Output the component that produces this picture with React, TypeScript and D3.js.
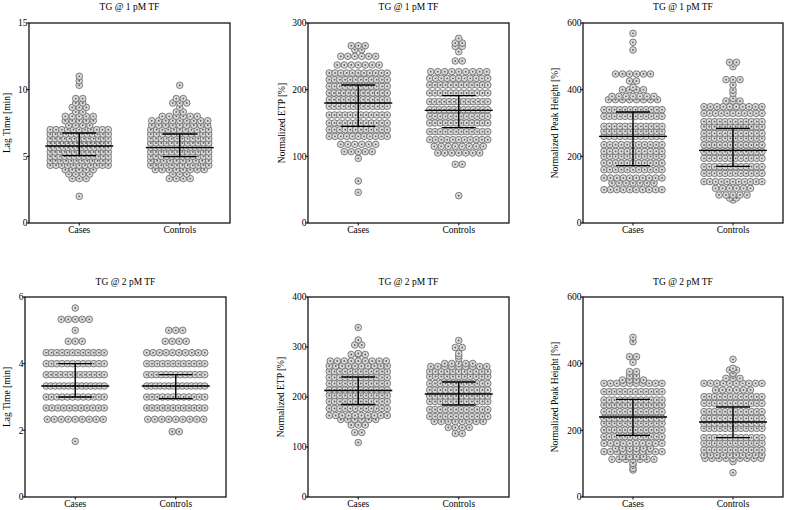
import React from 'react';
import * as d3 from 'd3';

type Row = [number, number]; // [value, number of subjects at that value]

const groups = ['Cases', 'Controls'];

// Lag time @ 1 pM TF (min)
const lag1Cases: Row[] = [[2.0,1],[3.33,3],[3.67,4],[4.0,5],[4.33,11],[4.67,12],[5.0,13],[5.33,13],[5.67,14],[6.0,14],[6.33,13],[6.67,12],[7.0,11],[7.33,4],[7.67,5],[8.0,5],[8.33,2],[8.67,3],[9.0,2],[9.33,2],[10.33,1],[10.67,1],[11.0,1]];
const lag1Controls: Row[] = [[3.33,4],[3.67,3],[4.0,8],[4.33,12],[4.67,10],[5.0,12],[5.33,12],[5.67,14],[6.0,12],[6.33,12],[6.67,11],[7.0,11],[7.33,9],[7.67,9],[8.0,6],[8.33,2],[8.67,1],[9.0,3],[9.33,2],[10.33,1]];
// Normalized ETP @ 1 pM TF (%)
const etp1Cases: Row[] = [[46,1],[63,1],[97,1],[107,5],[118,6],[130,11],[140,12],[150,12],[162,12],[175,13],[185,13],[195,13],[205,12],[215,12],[225,11],[237,7],[250,6],[260,2],[266,3]];
const etp1Controls: Row[] = [[41,1],[88,2],[105,7],[115,8],[125,11],[137,12],[150,12],[160,12],[170,13],[182,13],[195,12],[207,12],[217,11],[227,9],[243,2],[257,1],[265,2],[270,2],[277,1]];
// Normalized peak height @ 1 pM TF (%)
const ph1Cases: Row[] = [[100,10],[120,7],[135,10],[160,11],[180,11],[200,11],[215,11],[235,11],[260,12],[275,12],[290,12],[320,12],[340,12],[370,8],[380,7],[400,4],[407,1],[426,2],[447,6],[519,1],[542,1],[569,1]];
const ph1Controls: Row[] = [[69,1],[75,2],[84,5],[104,6],[124,11],[149,12],[169,12],[194,12],[214,12],[234,12],[254,12],[269,12],[289,12],[304,12],[329,11],[349,10],[366,3],[374,1],[389,1],[399,1],[414,1],[430,3],[469,1],[482,2]];
// Lag time @ 2 pM TF (min)
const lag2Cases: Row[] = [[1.67,1],[2.33,9],[2.67,11],[3.0,12],[3.33,14],[3.67,13],[4.0,12],[4.33,12],[4.67,3],[5.0,1],[5.33,5],[5.67,1]];
const lag2Controls: Row[] = [[1.96,2],[2.33,9],[2.67,12],[3.0,12],[3.33,14],[3.67,13],[4.0,12],[4.33,10],[4.67,4],[5.0,3]];
// Normalized ETP @ 2 pM TF (%)
const etp2Cases: Row[] = [[109,1],[129,2],[144,3],[155,6],[163,10],[177,12],[191,12],[203,12],[214,12],[227,12],[239,12],[251,12],[262,10],[272,9],[285,3],[287,1],[304,2],[314,1],[339,1]];
const etp2Controls: Row[] = [[127,2],[139,4],[151,8],[161,12],[175,12],[191,12],[202,12],[214,12],[227,12],[241,11],[251,11],[261,9],[267,5],[277,1],[282,1],[287,1],[299,2],[313,1]];
// Normalized peak height @ 2 pM TF (%)
const ph2Cases: Row[] = [[81,1],[86,1],[96,1],[101,1],[113,7],[121,4],[136,10],[146,6],[161,10],[181,12],[201,12],[221,12],[236,12],[256,12],[276,12],[291,12],[316,12],[341,10],[351,4],[363,2],[376,2],[404,1],[421,2],[466,1],[479,1]];
const ph2Controls: Row[] = [[73,1],[106,1],[116,9],[126,10],[141,12],[161,12],[178,12],[206,12],[221,12],[236,12],[256,12],[281,12],[301,12],[321,6],[341,10],[356,3],[366,1],[371,1],[381,2],[386,1],[413,1]];

// [median, Q1, Q3] per group
const lag1Stats = [[5.78, 5.05, 6.75], [5.65, 4.98, 6.68]];
const etp1Stats = [[180, 145, 207], [169, 143, 191]];
const ph1Stats = [[260, 172, 333], [218, 170, 284]];
const lag2Stats = [[3.33, 3.0, 4.0], [3.33, 2.95, 3.67]];
const etp2Stats = [[213, 185, 240], [206, 184, 230]];
const ph2Stats = [[240, 185, 293], [225, 178, 270]];

const titles = ['TG @ 1 pM TF', 'TG @ 2 pM TF'];
const yLabels = ['Lag Time [min]', 'Normalized ETP [%]', 'Normalized Peak Height [%]'];
const lag1Ticks = [0, 5, 10, 15];
const etp1Ticks = [0, 100, 200, 300];
const ph1Ticks = [0, 200, 400, 600];
const lag2Ticks = [0, 2, 4, 6];
const etp2Ticks = [0, 100, 200, 300, 400];
const ph2Ticks = [0, 200, 400, 600];

const FONT = 'Liberation Serif, serif';

interface PanelProps {
  x0: number; x1: number; y0: number; y1: number;
  title: string; yLabel: string; labelX: number; titleY: number; xLabelY: number;
  ticks: number[]; data: Row[][]; stats: number[][];
}

function Panel(p: PanelProps) {
  const y = d3.scaleLinear().domain([0, p.ticks[p.ticks.length - 1]]).range([p.y1, p.y0]);
  const x = d3.scaleBand().domain(groups).range([p.x0, p.x1]);
  const bw = x.bandwidth();
  const W = 58;
  const pts: { cx: number; cy: number }[] = [];
  p.data.forEach((rows, gi) => {
    const c = (x(groups[gi]) as number) + bw / 2;
    rows.forEach(([v, n]) => {
      const s = n > 1 ? Math.min(7, W / (n - 1)) : 0;
      for (let i = 0; i < n; i++) {
        pts.push({ cx: c + (i - (n - 1) / 2) * s, cy: y(v) });
      }
    });
  });
  const midX = (p.x0 + p.x1) / 2;
  const midY = (p.y0 + p.y1) / 2;
  return (
    <g>
      <text x={midX} y={p.titleY} textAnchor="middle" fontSize={9.5} fontFamily={FONT}>{p.title}</text>
      <text transform={`translate(${p.labelX},${midY}) rotate(-90)`} textAnchor="middle" fontSize={9.5} fontFamily={FONT}>{p.yLabel}</text>
      {pts.map((d, i) => (
        <g key={i}>
          <circle cx={d.cx} cy={d.cy} r={3.3} fill="#dadada" stroke="#6f6f6f" strokeWidth={0.9} />
          <circle cx={d.cx} cy={d.cy} r={0.9} fill="#5f5f5f" />
        </g>
      ))}
      {p.stats.map(([med, q1, q3], gi) => {
        const c = (x(groups[gi]) as number) + bw / 2;
        return (
          <g key={gi} stroke="#000" strokeWidth={1.4}>
            <line x1={c - 34} x2={c + 34} y1={y(med)} y2={y(med)} />
            <line x1={c} x2={c} y1={y(q1)} y2={y(q3)} />
            <line x1={c - 17} x2={c + 17} y1={y(q1)} y2={y(q1)} />
            <line x1={c - 17} x2={c + 17} y1={y(q3)} y2={y(q3)} />
          </g>
        );
      })}
      <rect x={p.x0} y={p.y0} width={p.x1 - p.x0} height={p.y1 - p.y0} fill="none" stroke="#000" strokeWidth={1.2} />
      {p.ticks.map((t) => (
        <g key={t}>
          <line x1={p.x0 - 2.5} x2={p.x0} y1={y(t)} y2={y(t)} stroke="#000" strokeWidth={1} />
          <text x={p.x0 - 1.5} y={y(t) + 3.3} textAnchor="end" fontSize={9.5} fontFamily={FONT}>{t}</text>
        </g>
      ))}
      {groups.map((g) => {
        const c = (x(g) as number) + bw / 2;
        return (
          <g key={g}>
            <line x1={c} x2={c} y1={p.y1} y2={p.y1 + 2.5} stroke="#000" strokeWidth={1} />
            <text x={c} y={p.xLabelY} textAnchor="middle" fontSize={9.5} fontFamily={FONT}>{g}</text>
          </g>
        );
      })}
    </g>
  );
}

export default function App() {
  const top = { y0: 23, y1: 223, titleY: 10, xLabelY: 232.5 };
  const bot = { y0: 297, y1: 497, titleY: 284.5, xLabelY: 506.5 };
  return (
    <svg width={787} height={510} style={{ position: 'absolute', left: 0, top: 0, background: '#fff' }}>
      <Panel x0={29} x1={230} {...top} title={titles[0]} yLabel={yLabels[0]} labelX={10} ticks={lag1Ticks} data={[lag1Cases, lag1Controls]} stats={lag1Stats} />
      <Panel x0={308} x1={509} {...top} title={titles[0]} yLabel={yLabels[1]} labelX={284.5} ticks={etp1Ticks} data={[etp1Cases, etp1Controls]} stats={etp1Stats} />
      <Panel x0={583} x1={783} {...top} title={titles[0]} yLabel={yLabels[2]} labelX={557.5} ticks={ph1Ticks} data={[ph1Cases, ph1Controls]} stats={ph1Stats} />
      <Panel x0={25} x1={226} {...bot} title={titles[1]} yLabel={yLabels[0]} labelX={9.5} ticks={lag2Ticks} data={[lag2Cases, lag2Controls]} stats={lag2Stats} />
      <Panel x0={308} x1={509} {...bot} title={titles[1]} yLabel={yLabels[1]} labelX={283.5} ticks={etp2Ticks} data={[etp2Cases, etp2Controls]} stats={etp2Stats} />
      <Panel x0={583} x1={783} {...bot} title={titles[1]} yLabel={yLabels[2]} labelX={557.5} ticks={ph2Ticks} data={[ph2Cases, ph2Controls]} stats={ph2Stats} />
    </svg>
  );
}
